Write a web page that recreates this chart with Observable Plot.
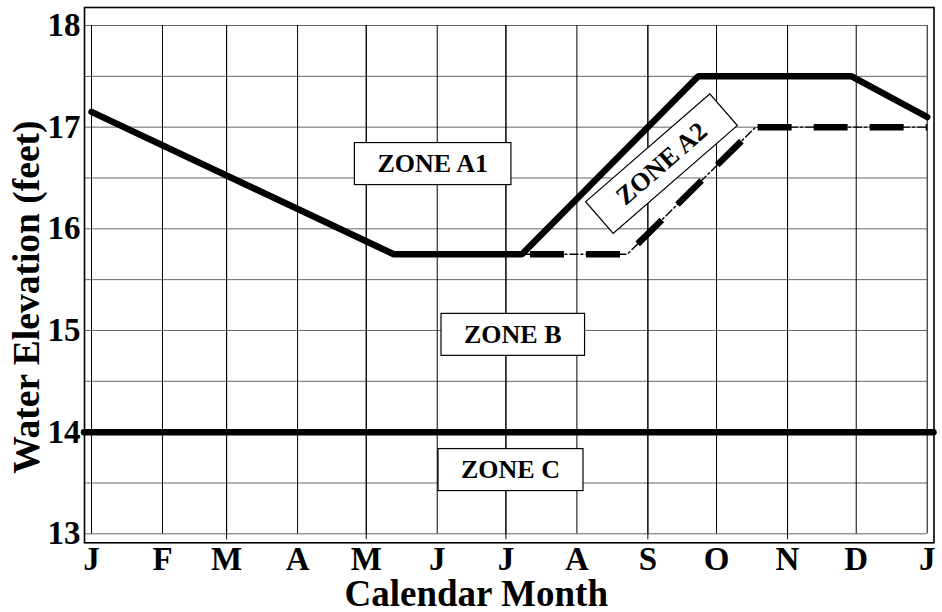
<!DOCTYPE html>
<html><head><meta charset="utf-8">
<script src="https://cdn.jsdelivr.net/npm/d3@7"></script>
<script src="https://cdn.jsdelivr.net/npm/@observablehq/plot@0.6"></script>
<style>html,body{margin:0;padding:0;background:#fff;} svg{display:block;}</style>
</head><body><div id="chart"></div>
<script>
// ---- data ----
const monthLabels = ["J","F","M","A","M","J","J","A","S","O","N","D","J"];
const monthTickDates = ["2001-01-01","2001-02-01","2001-03-01","2001-04-01","2001-05-01","2001-06-01","2001-07-01","2001-08-01","2001-09-01","2001-10-01","2001-11-01","2001-12-01","2002-01-01"];
const elevTicks = [13, 14, 15, 16, 17, 18];
const elevGrid = [13, 13.5, 14, 14.5, 15, 15.5, 16, 16.5, 17, 17.5, 18];

// upper (solid) schedule line
const solidDates = ["2001-01-01","2001-05-13","2001-07-08","2001-09-23","2001-11-29","2002-01-01"];
const solidElev  = [17.15, 15.75, 15.75, 17.5, 17.5, 17.1];
// lower (dashed) schedule line
const dashDates = ["2001-07-08","2001-08-23","2001-10-18","2002-01-01"];
const dashElev  = [15.75, 15.75, 17.0, 17.0];
// zone C boundary
const zoneCLine = [14];

// zone labels
const zoneLabels = ["ZONE A1","ZONE A2","ZONE B","ZONE C"];
const zoneDates  = ["2001-05-30","2001-09-07","2001-07-04","2001-07-03"];
const zoneElev   = [16.64, 16.64, 14.96, 13.63];

// ---- build ----
const parse = s => new Date(s + "T00:00:00Z");
const monthTicks = monthTickDates.map(parse);
const solid = solidDates.map((d, i) => ({date: parse(d), elev: solidElev[i]}));
const dashed = dashDates.map((d, i) => ({date: parse(d), elev: dashElev[i]}));
const zones = zoneLabels.map((l, i) => ({label: l, date: parse(zoneDates[i]), elev: zoneElev[i]}));
const longTicks = monthTicks.filter((d, i) => i % 2 === 0 && i > 0 && i < 12);
const serif = "'Liberation Serif', 'Times New Roman', serif";

const svg = Plot.plot({
  width: 942,
  height: 612,
  marginLeft: 84,
  marginRight: 8.5,
  marginTop: 7,
  marginBottom: 69.7,
  style: {fontFamily: serif, fontWeight: "bold", background: "white", overflow: "visible"},
  x: {type: "utc", domain: [monthTicks[0], monthTicks[12]], insetLeft: 7, insetRight: 6.8, axis: null},
  y: {domain: [13, 18], insetTop: 18, insetBottom: 9, axis: null},
  marks: [
    Plot.ruleY(elevGrid, {stroke: "#666", strokeWidth: 1, insetRight: 6.8}),
    Plot.ruleX(monthTicks, {stroke: "#000", strokeWidth: 1, insetTop: 18, insetBottom: 9}),
    Plot.ruleX(longTicks, {stroke: "#000", strokeWidth: 1, insetTop: 18, insetBottom: 3}),
    Plot.frame({stroke: "#000", strokeWidth: 1.6}),
    Plot.axisX(monthTicks, {tickSize: 0, tickPadding: 4, fontSize: 33, fontWeight: "bold",
      tickFormat: d => monthLabels[monthTicks.findIndex(t => +t === +d)], label: null}),
    Plot.axisY(elevTicks, {tickSize: 0, tickPadding: 4, fontSize: 33, fontWeight: "bold",
      tickFormat: d => String(d), label: null}),
    Plot.text(zones, {x: "date", y: "elev", text: "label", fontSize: 26, fontWeight: "bold",
      rotate: d => d.label === "ZONE A2" ? -41 : 0, fill: "#000"}),
    Plot.ruleY(zoneCLine, {stroke: "#000", strokeWidth: 6.5, strokeLinecap: "round"}),
    Plot.line(dashed, {x: "date", y: "elev", stroke: "#000", strokeWidth: 1.4, strokeDasharray: "8,3,2,3"}),
    Plot.line(dashed, {x: "date", y: "elev", stroke: "#000", strokeWidth: 6.5, strokeLinecap: "butt",
      strokeLinejoin: "miter", strokeDasharray: "34,22", strokeDashoffset: 48}),
    Plot.line(solid, {x: "date", y: "elev", stroke: "#000", strokeWidth: 6.5, strokeLinejoin: "miter"}),
    Plot.text(["Water Elevation (feet)"], {frameAnchor: "left", rotate: -90, dx: -58, dy: 22, fontSize: 37.5,
      fontWeight: "bold", textAnchor: "middle", lineAnchor: "middle"}),
    Plot.text(["Calendar Month"], {frameAnchor: "bottom", dx: -33, dy: 51, fontSize: 37,
      fontWeight: "bold", textAnchor: "middle", lineAnchor: "middle"})
  ]
});
document.getElementById("chart").append(svg);

// white boxes behind zone labels
Array.from(svg.querySelectorAll("text"))
  .filter(t => t.textContent.startsWith("ZONE"))
  .forEach(t => {
    const bb = t.getBBox();
    const padX = t.textContent === "ZONE A2" ? 27 : 23;
    const h = 42;
    const cy = bb.y + bb.height / 2;
    const r = document.createElementNS("http://www.w3.org/2000/svg", "rect");
    r.setAttribute("x", bb.x - padX);
    r.setAttribute("y", cy - h / 2);
    r.setAttribute("width", bb.width + 2 * padX);
    r.setAttribute("height", h);
    r.setAttribute("fill", "white");
    r.setAttribute("stroke", "#000");
    r.setAttribute("stroke-width", "1.2");
    const tr = t.getAttribute("transform");
    if (tr) r.setAttribute("transform", tr);
    t.parentNode.insertBefore(r, t);
  });
</script>
</body></html>
